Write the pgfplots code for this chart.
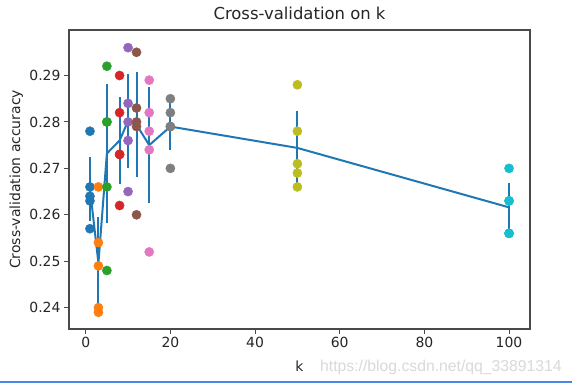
\documentclass[border=0pt]{standalone}
\usepackage{fontspec}
\setmainfont{DejaVu Sans}
\newfontfamily\wmfont{Liberation Sans}
\usepackage{pgfplots}
\pgfplotsset{compat=1.18}
\definecolor{C0}{HTML}{1F77B4}
\definecolor{C1}{HTML}{FF7F0E}
\definecolor{C2}{HTML}{2CA02C}
\definecolor{C3}{HTML}{D62728}
\definecolor{C4}{HTML}{9467BD}
\definecolor{C5}{HTML}{8C564B}
\definecolor{C6}{HTML}{E377C2}
\definecolor{C7}{HTML}{7F7F7F}
\definecolor{C8}{HTML}{BCBD22}
\definecolor{C9}{HTML}{17BECF}
\definecolor{spine}{HTML}{4A4A4A}
\definecolor{bline}{HTML}{4A86E8}
\begin{document}
\begin{tikzpicture}[x=1bp,y=1bp]
\useasboundingbox (0,0) rectangle (572,383);
\fill[white] (0,0) rectangle (572,383);
\begin{axis}[
  at={(69bp,54bp)}, anchor=south west,
  scale only axis, width=461bp, height=299bp,
  xmin=-3.95, xmax=104.95, ymin=0.2354, ymax=0.2998,
  xtick={0,20,40,60,80,100},
  ytick={0.24,0.25,0.26,0.27,0.28,0.29},
  /pgf/number format/assume math mode=true,
  yticklabel style={/pgf/number format/.cd, fixed, fixed zerofill, precision=2},
  tick align=outside, tick pos=left,
  major tick length=5bp,
  every tick/.style={spine, line width=1.1bp},
  axis line style={spine, line width=1.1bp},
  tick label style={font=\fontsize{14}{16}\selectfont, text=black!85},
  title={Cross-validation on k},
  title style={at={([yshift=5bp]axis description cs:0.5,1)}, anchor=base, font=\fontsize{16.5}{19}\selectfont, text=black!85},
  xlabel={k},
  xlabel style={at={([yshift=-42bp]axis description cs:0.5,0)}, anchor=base, font=\fontsize{14}{16}\selectfont, text=black!85},
  ylabel={Cross-validation accuracy},
  ylabel style={at={([xshift=-49bp]axis description cs:0,0.5)}, anchor=base, rotate=0, font=\fontsize{14}{16}\selectfont, text=black!85},
  mark size=4.6bp,
]
\addplot[only marks, mark=*, C0, mark options={draw=C0, fill=C0}] coordinates {(1,0.263) (1,0.257) (1,0.264) (1,0.278) (1,0.266)};
\addplot[only marks, mark=*, C1, mark options={draw=C1, fill=C1}] coordinates {(3,0.239) (3,0.249) (3,0.240) (3,0.266) (3,0.254)};
\addplot[only marks, mark=*, C2, mark options={draw=C2, fill=C2}] coordinates {(5,0.248) (5,0.266) (5,0.280) (5,0.292) (5,0.280)};
\addplot[only marks, mark=*, C3, mark options={draw=C3, fill=C3}] coordinates {(8,0.262) (8,0.282) (8,0.273) (8,0.290) (8,0.273)};
\addplot[only marks, mark=*, C4, mark options={draw=C4, fill=C4}] coordinates {(10,0.265) (10,0.296) (10,0.276) (10,0.284) (10,0.280)};
\addplot[only marks, mark=*, C5, mark options={draw=C5, fill=C5}] coordinates {(12,0.260) (12,0.295) (12,0.279) (12,0.283) (12,0.280)};
\addplot[only marks, mark=*, C6, mark options={draw=C6, fill=C6}] coordinates {(15,0.252) (15,0.289) (15,0.278) (15,0.282) (15,0.274)};
\addplot[only marks, mark=*, C7, mark options={draw=C7, fill=C7}] coordinates {(20,0.270) (20,0.279) (20,0.279) (20,0.282) (20,0.285)};
\addplot[only marks, mark=*, C8, mark options={draw=C8, fill=C8}] coordinates {(50,0.271) (50,0.288) (50,0.278) (50,0.269) (50,0.266)};
\addplot[only marks, mark=*, C9, mark options={draw=C9, fill=C9}] coordinates {(100,0.256) (100,0.270) (100,0.263) (100,0.256) (100,0.263)};
\addplot[C0, line width=2bp, mark=none,
  error bars/.cd, y dir=both, y explicit, error mark=none,
  error bar style={C0, line width=2bp}]
  coordinates {
  (1,0.2656) +- (0,0.00689)
  (3,0.2496) +- (0,0.00993)
  (5,0.2732) +- (0,0.01505)
  (8,0.2760) +- (0,0.00944)
  (10,0.2802) +- (0,0.01013)
  (12,0.2794) +- (0,0.01125)
  (15,0.2750) +- (0,0.01252)
  (20,0.2790) +- (0,0.00502)
  (50,0.2744) +- (0,0.00786)
  (100,0.2616) +- (0,0.00524)
  };
\end{axis}
\node[anchor=base west, font=\wmfont\fontsize{15.8}{18}\selectfont, text=gray!30, inner sep=0pt] at (320,12) {https://blog.csdn.net/qq\_33891314};
\draw[bline, line width=1.6bp] (0,0.8) -- (572,0.8);
\end{tikzpicture}
\end{document}
